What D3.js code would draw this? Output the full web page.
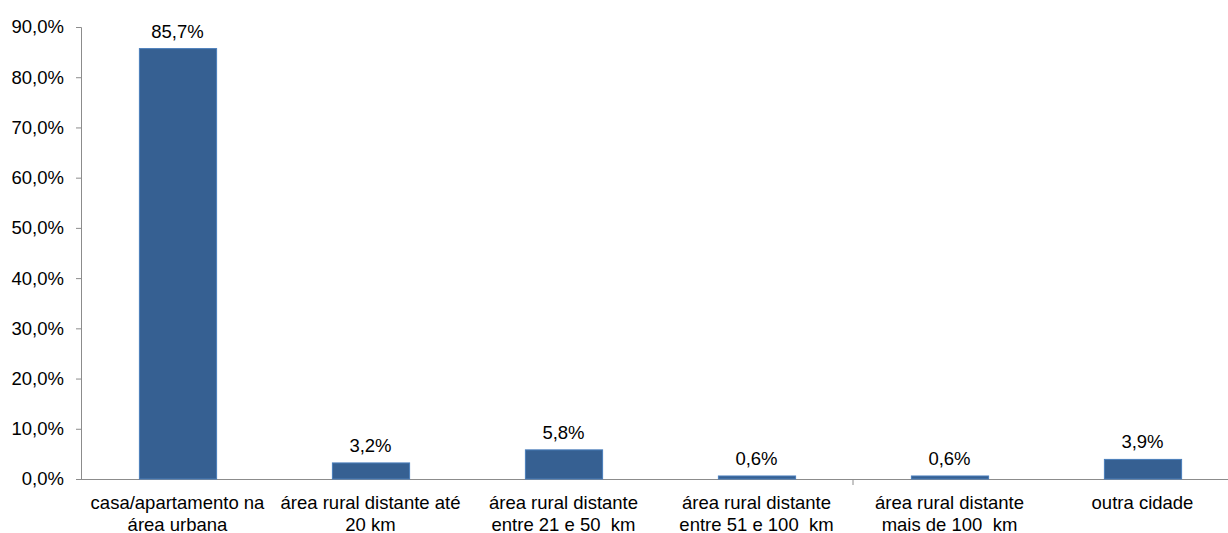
<!DOCTYPE html>
<html lang="pt">
<head>
  <meta charset="UTF-8">
  <title>Local de residência</title>
  <script src="https://d3js.org/d3.v7.min.js"></script>
  <style>
      body { margin: 0; background: #fff; }
      text { font-family: "Liberation Sans", Arial, sans-serif; font-size: 18.5px; fill: #000; white-space: pre; }
      .bar { fill: #366092; stroke: #4a7ebb; stroke-width: 1px; }
      .axis-line { stroke: #8c8c8c; stroke-width: 1px; }
  </style>
</head>
<body>
<svg width="1228" height="533"></svg>
<script>
  const categories = [
    ["casa/apartamento na", "área urbana"],
    ["área rural distante até", "20 km"],
    ["área rural distante", "entre 21 e 50  km"],
    ["área rural distante", "entre 51 e 100  km"],
    ["área rural distante", "mais de 100  km"],
    ["outra cidade"]
  ];
  const values = [85.7, 3.2, 5.8, 0.6, 0.6, 3.9];
  const yTicks = [0, 10, 20, 30, 40, 50, 60, 70, 80, 90];

  const svg = d3.select("svg");
  const plotLeft = 81, plotRight = 1239, plotTop = 27, plotBottom = 479;

  const fmt = v => d3.format(".1f")(v).replace(".", ",") + "%";

  const x = d3.scaleBand()
    .domain(d3.range(values.length))
    .range([plotLeft, plotRight])
    .paddingInner(0.6)
    .paddingOuter(0.3);

  const y = d3.scaleLinear().domain([0, 90]).range([plotBottom, plotTop]);

  // y axis
  const yAxis = svg.append("g")
    .attr("transform", `translate(${plotLeft},0)`)
    .call(d3.axisLeft(y).tickValues(yTicks).tickSize(5).tickPadding(12).tickFormat(fmt));
  yAxis.selectAll("path, line").attr("class", "axis-line");
  yAxis.selectAll("text").style("font-size", "18.5px").attr("fill", "#000");

  // x axis line
  svg.append("line")
    .attr("class", "axis-line")
    .attr("x1", plotLeft).attr("x2", 1228)
    .attr("y1", plotBottom + 0.5).attr("y2", plotBottom + 0.5);

  // single visible category divider tick
  const step = x.step();
  svg.append("line")
    .attr("class", "axis-line")
    .attr("x1", plotLeft + step * 4).attr("x2", plotLeft + step * 4)
    .attr("y1", plotBottom).attr("y2", plotBottom + 6);

  // bars
  svg.append("g").selectAll("rect")
    .data(values)
    .enter().append("rect")
    .attr("class", "bar")
    .attr("x", (d, i) => x(i) + 0.5)
    .attr("y", d => y(d))
    .attr("width", x.bandwidth())
    .attr("height", d => plotBottom - y(d));

  // value labels
  svg.append("g").selectAll("text")
    .data(values)
    .enter().append("text")
    .attr("x", (d, i) => x(i) + x.bandwidth() / 2)
    .attr("y", d => y(d) - 11)
    .attr("text-anchor", "middle")
    .text(d => fmt(d));

  // category labels
  const catG = svg.append("g").selectAll("text")
    .data(categories)
    .enter().append("text")
    .attr("x", (d, i) => x(i) + x.bandwidth() / 2)
    .attr("y", 509)
    .attr("text-anchor", "middle");
  catG.selectAll("tspan")
    .data(d => d)
    .enter().append("tspan")
    .attr("x", function () { return d3.select(this.parentNode).attr("x"); })
    .attr("dy", (d, i) => i === 0 ? 0 : 22)
    .text(d => d);
</script>
</body>
</html>
